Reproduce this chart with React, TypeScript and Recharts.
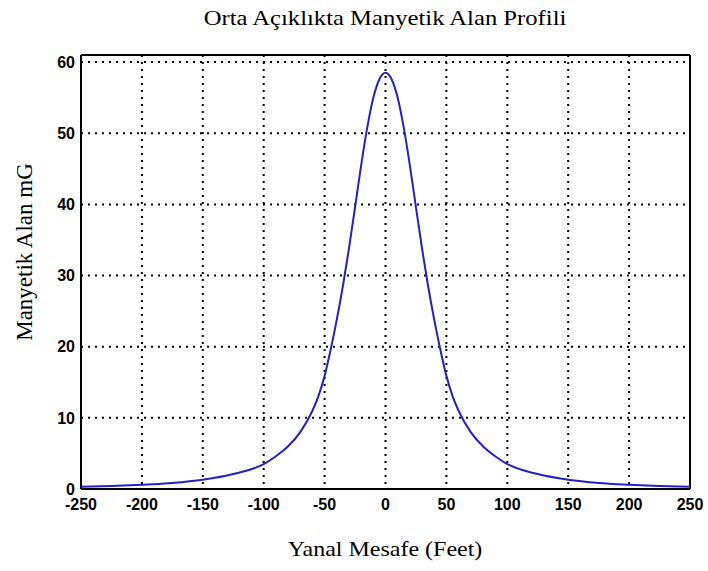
import React from "react";
import {
  LineChart,
  Line,
  XAxis,
  YAxis,
  CartesianGrid,
  ReferenceLine,
} from "recharts";

// lateral distance (ft) and field (mG)
const distanceFt = [
  -250, -225, -200, -175, -150, -125, -100, -90, -80, -70, -60, -55, -50, -45,
  -40, -35, -30, -25, -20, -15, -10, -5, 0, 5, 10, 15, 20, 25, 30, 35, 40, 45,
  50, 55, 60, 70, 80, 90, 100, 125, 150, 175, 200, 225, 250,
];
const fieldMg = [
  0.3, 0.42, 0.6, 0.85, 1.3, 2.1, 3.5, 4.6, 6.0, 8.0, 11.0, 13.1, 15.9, 19.6,
  23.8, 28.5, 33.8, 39.6, 45.5, 50.8, 55, 57.6, 58.5, 57.6, 55, 50.8, 45.5,
  39.6, 33.8, 28.5, 23.8, 19.6, 15.9, 13.1, 11.0, 8.0, 6.0, 4.6, 3.5, 2.1, 1.3,
  0.85, 0.6, 0.42, 0.3,
];
const xTicks = [-250, -200, -150, -100, -50, 0, 50, 100, 150, 200, 250];
const yTicks = [0, 10, 20, 30, 40, 50, 60];

const title = "Orta Açıklıkta Manyetik Alan Profili";
const xLabel = "Yanal Mesafe (Feet)";
const yLabel = "Manyetik Alan mG";

const data = distanceFt.map((d, i) => ({ d, b: fieldMg[i] }));

const serif = "'Liberation Serif', 'Times New Roman', serif";
const tickFont = { fontFamily: "'Liberation Sans', Arial, sans-serif", fontSize: 16, fontWeight: 700, fill: "#000" };

export default function App() {
  return (
    <div style={{ position: "absolute", left: 0, top: 0, width: 708, height: 571, background: "#fff" }}>
      <div
        style={{
          position: "absolute",
          left: 385,
          top: 5,
          transform: "translateX(-50%) scaleX(1.12)",
          whiteSpace: "nowrap",
          fontFamily: serif,
          fontSize: 22,
          color: "#000",
        }}
      >
        {title}
      </div>
      <div
        style={{
          position: "absolute",
          left: 385,
          top: 536,
          transform: "translateX(-50%) scaleX(1.09)",
          whiteSpace: "nowrap",
          fontFamily: serif,
          fontSize: 22,
          color: "#000",
        }}
      >
        {xLabel}
      </div>
      <div
        style={{
          position: "absolute",
          left: 25,
          top: 252,
          transform: "translate(-50%, -50%) rotate(-90deg)",
          whiteSpace: "nowrap",
          fontFamily: serif,
          fontSize: 23,
          color: "#000",
        }}
      >
        {yLabel}
      </div>
      <LineChart
        width={708}
        height={571}
        data={data}
        margin={{ top: 55, right: 18, bottom: 42, left: 21 }}
      >
        <CartesianGrid stroke="#000" strokeWidth={2} strokeDasharray="2 5" />
        <XAxis
          dataKey="d"
          type="number"
          domain={[-250, 250]}
          ticks={xTicks}
          allowDataOverflow
          height={40}
          tickLine={false}
          tickSize={6}
          tickMargin={4}
          axisLine={{ stroke: "#000", strokeWidth: 2 }}
          tick={tickFont}
          interval={0}
        />
        <YAxis
          type="number"
          domain={[0, 61]}
          ticks={yTicks}
          allowDataOverflow
          width={60}
          tickLine={false}
          tickSize={6}
          tickMargin={0}
          axisLine={{ stroke: "#000", strokeWidth: 2 }}
          tick={tickFont}
          interval={0}
        />
        <ReferenceLine y={61} stroke="#000" strokeWidth={2} />
        <ReferenceLine x={250} stroke="#000" strokeWidth={2} />
        <Line
          type="monotone"
          dataKey="b"
          stroke="#2222c4"
          strokeWidth={2}
          dot={false}
          isAnimationActive={false}
        />
      </LineChart>
    </div>
  );
}
